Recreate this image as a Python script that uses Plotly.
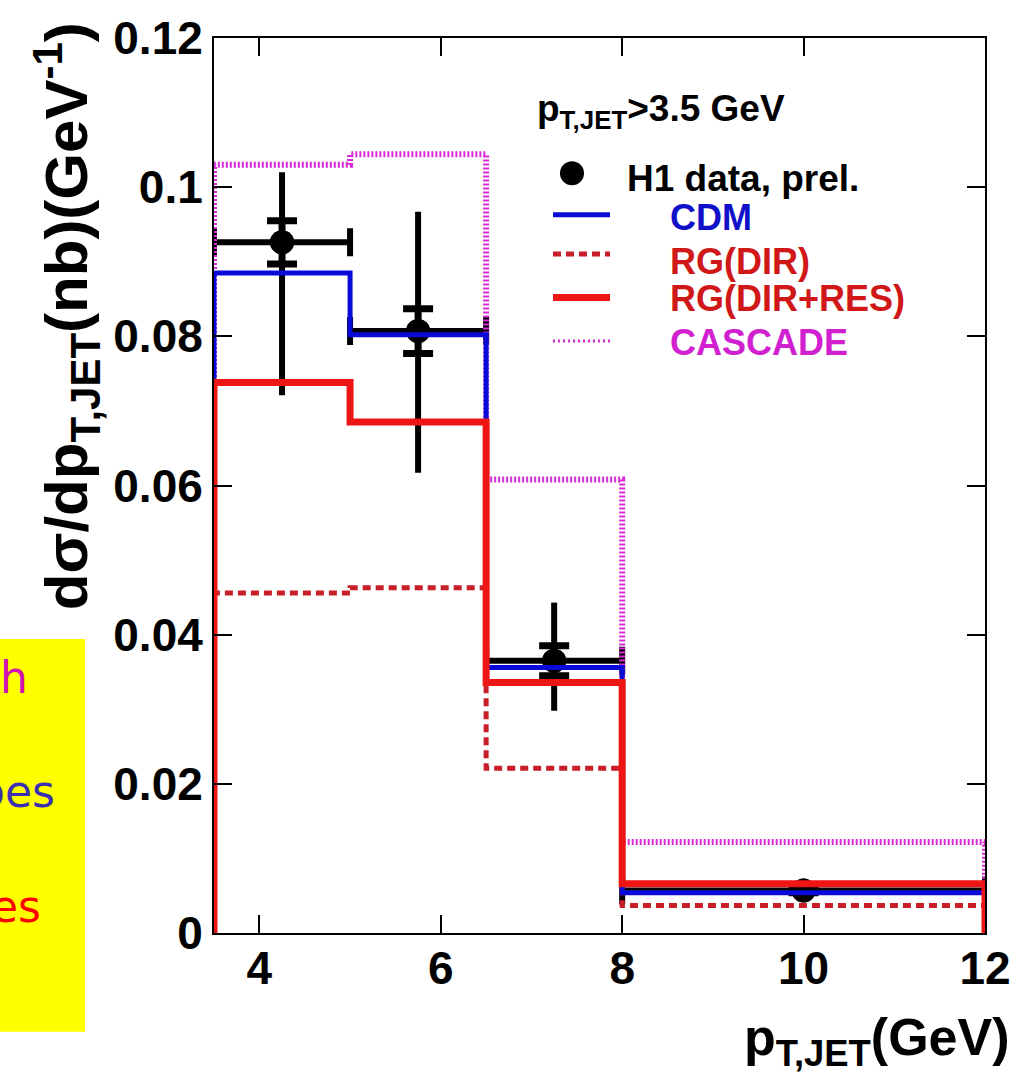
import plotly.graph_objects as go

# ---------------- data ----------------
bin_edges = [3.5, 5.0, 6.5, 8.0, 12.0]
cdm = [0.0885, 0.0802, 0.0356, 0.0054]
rg_dir = [0.0456, 0.0463, 0.0221, 0.0037]
rg_dir_res = [0.0738, 0.0685, 0.0336, 0.0066]
cascade = [0.1030, 0.1044, 0.0608, 0.0122]

data_x = [4.25, 5.75, 7.25, 10.0]
data_y = [0.0926, 0.0807, 0.0365, 0.0057]
data_xerr = [0.75, 0.75, 0.75, 2.0]
stat_err = [0.0029, 0.0030, 0.0020, 0.0003]
tot_err_up = [0.0094, 0.0160, 0.0078, 0.0006]
tot_err_dn = [0.0205, 0.0190, 0.0067, 0.0006]

x_ticks = [4, 6, 8, 10, 12]
y_ticks = [0, 0.02, 0.04, 0.06, 0.08, 0.1, 0.12]
y_ticklabels = ["0", "0.02", "0.04", "0.06", "0.08", "0.1", "0.12"]

# ---------------- geometry ----------------
W, H = 1028, 1090
L, R, T, B = 214, 985, 26, 933


def px(x):
    return (x - L) / (R - L)


def py(y):
    return (B - y) / (B - T)


def hist_xy(edges, vals):
    xs = [edges[0]] + list(edges) + [edges[-1]]
    ys = [0] + list(vals) + [vals[-1], 0]
    return xs, ys


BLUE = "#0a0ad8"
RED = "#ee1515"
DRED = "#c81e28"
MAG = "#d82ad8"
FONT = "Liberation Sans"

fig = go.Figure()

# data points (drawn underneath the curves)
fig.add_trace(go.Scatter(
    x=data_x, y=data_y, mode="markers",
    marker=dict(color="black", size=24),
    error_y=dict(type="data", symmetric=False, array=tot_err_up, arrayminus=tot_err_dn,
                 color="black", thickness=6, width=0),
    error_x=dict(type="data", array=data_xerr, color="black", thickness=6, width=14),
    showlegend=False))
fig.add_trace(go.Scatter(
    x=data_x, y=data_y, mode="markers",
    marker=dict(color="black", size=24),
    error_y=dict(type="data", array=stat_err, color="black", thickness=7, width=15),
    showlegend=False))

for vals, col, wid, dash in [
    (cascade, MAG, 6, "2px,2px"),
    (rg_dir, DRED, 5, "8px,5px"),
    (cdm, BLUE, 5, "solid"),
    (rg_dir_res, RED, 7, "solid"),
]:
    xs, ys = hist_xy(bin_edges, vals)
    fig.add_trace(go.Scatter(x=xs, y=ys, mode="lines",
                             line=dict(color=col, width=wid, dash=dash, shape="hv"),
                             showlegend=False))

annotations = []
shapes = []

# legend (manual)
annotations.append(dict(x=px(535), y=py(100), xref="paper", yref="paper",
                        text="<b>p<sub>T,JET</sub>&gt;3.5 GeV</b>", showarrow=False,
                        xanchor="left", yanchor="middle",
                        font=dict(family=FONT, size=37, color="black")))
shapes.append(dict(type="circle", xref="paper", yref="paper",
                   xsizemode="pixel", ysizemode="pixel",
                   xanchor=px(572), yanchor=py(163), x0=-12, x1=12, y0=-12, y1=12,
                   fillcolor="black", line=dict(width=0)))
annotations.append(dict(x=px(625), y=py(168), xref="paper", yref="paper",
                        text="<b>H1 data, prel.</b>", showarrow=False,
                        xanchor="left", yanchor="middle",
                        font=dict(family=FONT, size=37, color="black")))
legend_items = [
    ("CDM", BLUE, 5, "solid", 205, 208, "#1010c8"),
    ("RG(DIR)", DRED, 5, "8px,5px", 245, 252, "#d01818"),
    ("RG(DIR+RES)", RED, 7, "solid", 289, 290, "#d01818"),
    ("CASCADE", MAG, 3, "2px,3px", 333, 335, "#d020d0"),
]
for name, col, wid, dash, ly, ty, tcol in legend_items:
    shapes.append(dict(type="line", xref="paper", yref="paper",
                       x0=px(553), x1=px(610), y0=py(ly), y1=py(ly),
                       line=dict(color=col, width=wid, dash=dash)))
    annotations.append(dict(x=px(668), y=py(ty), xref="paper", yref="paper",
                            text="<b>%s</b>" % name, showarrow=False,
                            xanchor="left", yanchor="middle",
                            font=dict(family=FONT, size=36, color=tcol)))

# axis titles
annotations.append(dict(x=px(66), y=py(308), xref="paper", yref="paper",
                        text="<b>dσ/dp<sub>T,JET</sub>(nb)(GeV<sup>-1</sup>)</b>",
                        textangle=-90, showarrow=False, xanchor="center", yanchor="middle",
                        font=dict(family=FONT, size=60, color="black")))
annotations.append(dict(x=px(1012), y=py(1042), xref="paper", yref="paper",
                        text="<b>p<sub>T,JET</sub>(GeV)</b>", showarrow=False,
                        xanchor="right", yanchor="middle",
                        font=dict(family=FONT, size=52, color="black")))

# yellow side box (cut off at the left edge)
shapes.append(dict(type="rect", xref="paper", yref="paper",
                   x0=px(-5), x1=px(85), y0=py(1033), y1=py(635),
                   fillcolor="#ffff00", line=dict(width=0), layer="above"))
for txt, xr, yc, col in [("h", 30, 674, "#d010b0"),
                         ("oes", 57, 790, "#3a30b0"),
                         ("es", 43, 906, "#ff0000")]:
    annotations.append(dict(x=px(xr), y=py(yc), xref="paper", yref="paper",
                            text=txt, showarrow=False, xanchor="right", yanchor="middle",
                            font=dict(family="DejaVu Sans", size=44, color=col)))

axis_common = dict(showline=True, linecolor="black", linewidth=2, mirror="ticks",
                   ticks="inside", ticklen=18, tickwidth=2, tickcolor="black",
                   showgrid=False, zeroline=False,
                   tickfont=dict(family=FONT, size=46, color="black", weight="bold"))

fig.update_layout(
    width=W, height=H,
    margin=dict(l=L, r=W - R, t=T, b=H - B, pad=0),
    paper_bgcolor="white", plot_bgcolor="white",
    showlegend=False,
    xaxis=dict(range=[3.5, 12], tickvals=x_ticks, ticktext=[str(v) for v in x_ticks],
               ticklabelstandoff=-6, **axis_common),
    yaxis=dict(range=[0, 0.12], tickvals=y_ticks, ticktext=y_ticklabels, **axis_common),
    annotations=annotations,
    shapes=shapes,
)

fig.write_html("out.html")
